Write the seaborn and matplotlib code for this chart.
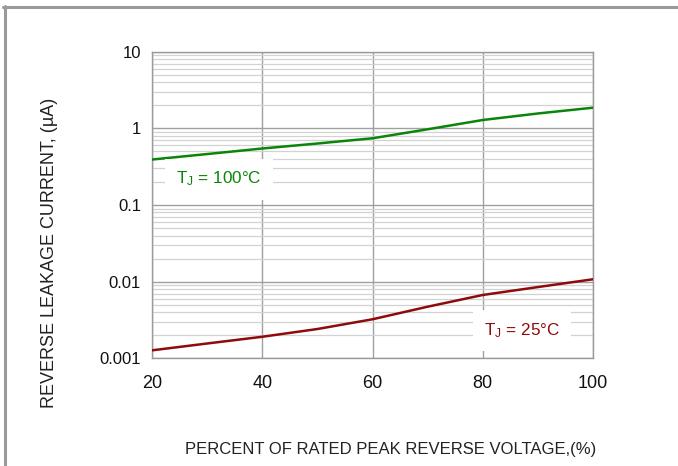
import numpy as np
import pandas as pd
import matplotlib
matplotlib.use("Agg")
import matplotlib.pyplot as plt
from matplotlib.lines import Line2D
from matplotlib.ticker import LogLocator, FixedLocator, FixedFormatter, NullFormatter
import seaborn as sns

# ---- data ----
percent = [20, 30, 40, 50, 60, 70, 80, 90, 100]
current_100c = [0.392, 0.462, 0.546, 0.634, 0.742, 0.972, 1.285, 1.563, 1.86]
current_25c = [0.00127, 0.00156, 0.00191, 0.00241, 0.00323, 0.00471, 0.0067, 0.0085, 0.01074]
series_labels = ["T$_\\mathregular{J}$ = 100°C", "T$_\\mathregular{J}$ = 25°C"]
y_ticks = [0.001, 0.01, 0.1, 1, 10]
y_tick_labels = ["0.001", "0.01", "0.1", "1", "10"]
x_ticks = [20, 40, 60, 80, 100]
x_label = "PERCENT OF RATED PEAK REVERSE VOLTAGE,(%)"
y_label = "REVERSE LEAKAGE CURRENT, (µA)"

GREEN = "#0a850a"
RED = "#8f0a0a"

sns.set_style("white")
plt.rcParams["font.family"] = ["Liberation Sans", "DejaVu Sans"]
plt.rcParams["mathtext.fontset"] = "custom"
plt.rcParams["mathtext.rm"] = "Liberation Sans"
plt.rcParams["mathtext.it"] = "Liberation Sans"

df = pd.DataFrame({
    "percent": percent * 2,
    "current": current_100c + current_25c,
    "tj": ["100"] * len(percent) + ["25"] * len(percent),
})

fig = plt.figure(figsize=(6.78, 4.66), dpi=100)
ax = fig.add_axes([152 / 678, (466 - 358.3) / 466, 441 / 678, 306.6 / 466])

sns.lineplot(data=df, x="percent", y="current", hue="tj",
             palette={"100": GREEN, "25": RED}, legend=False,
             linewidth=1.8, ax=ax, zorder=3)

ax.set_yscale("log")
ax.set_xlim(20, 100)
ax.set_ylim(0.001, 10)

ax.yaxis.set_major_locator(FixedLocator(y_ticks))
ax.yaxis.set_major_formatter(FixedFormatter(y_tick_labels))
ax.yaxis.set_minor_locator(LogLocator(base=10, subs=np.arange(2, 10)))
ax.yaxis.set_minor_formatter(NullFormatter())
ax.xaxis.set_major_locator(FixedLocator(x_ticks))

ax.set_axisbelow(True)
ax.grid(which="major", axis="both", color="#a0a0a0", linewidth=1.0)
ax.grid(which="minor", axis="y", color="#d2d2d2", linewidth=0.9)

for s in ax.spines.values():
    s.set_color("#9a9a9a")
    s.set_linewidth(1.0)

ax.tick_params(axis="y", which="major", length=4, width=1, color="#9a9a9a",
               pad=4, labelsize=12, labelcolor="#111111")
ax.tick_params(axis="y", which="minor", length=0)
ax.tick_params(axis="x", which="major", length=0, pad=12, labelsize=13,
               labelcolor="#111111")

ax.set_xlabel(x_label, fontsize=12, color="#222222")
ax.set_ylabel(y_label, fontsize=13, color="#222222")
ax.xaxis.set_label_coords(0.542, -0.274)
ax.yaxis.set_label_coords(-0.214, 0.343)

ax.text(32.2, 0.218, series_labels[0], color=GREEN, fontsize=12.3,
        ha="center", va="center", zorder=4,
        bbox=dict(boxstyle="square,pad=0.65", fc="white", ec="none"))
ax.text(87.1, 0.00232, series_labels[1], color=RED, fontsize=12.3,
        ha="center", va="center", zorder=4,
        bbox=dict(boxstyle="square,pad=0.65", fc="white", ec="none"))

# outer frame lines (top and left)
fig.add_artist(Line2D([3 / 678, 1.0], [1 - 6.5 / 466, 1 - 6.5 / 466],
                      transform=fig.transFigure, color="#9a9a9a", linewidth=2.2))
fig.add_artist(Line2D([4.8 / 678, 4.8 / 678], [0.0, 1 - 5.5 / 466],
                      transform=fig.transFigure, color="#9a9a9a", linewidth=2.2))

fig.savefig("out.png", dpi=100)
